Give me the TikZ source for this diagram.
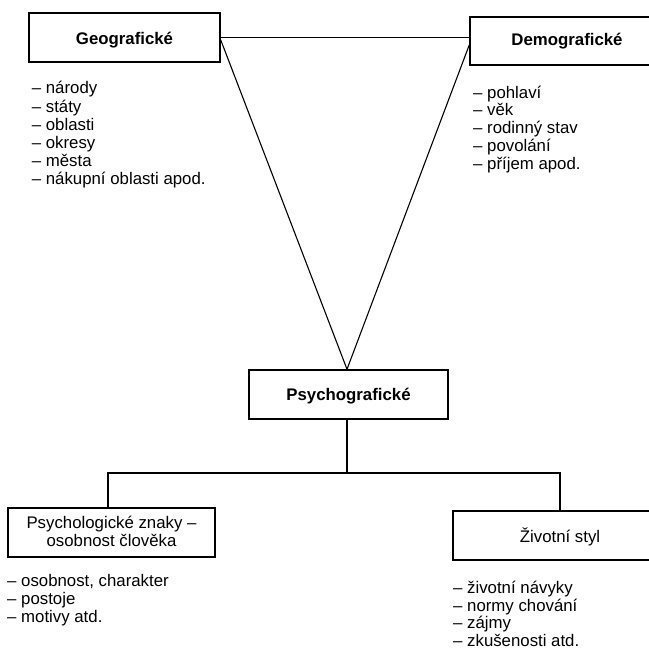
\documentclass[tikz,border=0pt]{standalone}
\usepackage{fontspec}
\setmainfont{Liberation Sans}
\begin{document}
\begin{tikzpicture}[x=1pt,y=-1pt,
  box/.style={draw, line width=1.5pt, inner sep=0pt, font=\fontsize{16.8}{18}\selectfont},
  head/.style={box, font=\fontsize{16.8}{18}\selectfont\bfseries},
  conn/.style={line width=1.1pt},
  listtext/.style={inner sep=0pt, anchor=base west}
]
\useasboundingbox (0,0) rectangle (648,655);
% boxes
\node[head, minimum width=191pt, minimum height=49pt, text height=15pt, text depth=0pt] (geo) at (124.5,37.5) {Geografické};
\node[head, minimum width=194pt, minimum height=48pt, text height=12pt, text depth=3pt] (demo) at (567,41) {Demografické};
\node[head, minimum width=199pt, minimum height=49pt, text height=12.4pt, text depth=0pt] (psy) at (348.5,394.5) {Psychografické};
\node[box, minimum width=207pt, minimum height=49pt, text height=0pt, text depth=8.4pt] (lbox) at (111.5,532.5)
  {\begin{tabular}[t]{@{}c@{}}Psychologické znaky –\\osobnost člověka\end{tabular}};
\node[box, minimum width=214pt, minimum height=49pt, text height=14.4pt, text depth=0pt] (rbox) at (560,535.5) {Životní styl};
% lists
\node[listtext, font=\fontsize{16.8}{18.1}\selectfont] (geolist) at (31.7,94)
  {\begin{tabular}[t]{@{}l@{}}– národy\\– státy\\– oblasti\\– okresy\\– města\\– nákupní oblasti apod.\end{tabular}};
\node[listtext, font=\fontsize{16.8}{17.7}\selectfont] (demolist) at (473,98.3)
  {\begin{tabular}[t]{@{}l@{}}– pohlaví\\– věk\\– rodinný stav\\– povolání\\– příjem apod.\end{tabular}};
\node[listtext, font=\fontsize{16.8}{18.2}\selectfont] (llist) at (7,586.2)
  {\begin{tabular}[t]{@{}l@{}}– osobnost, charakter\\– postoje\\– motivy atd.\end{tabular}};
\node[listtext, font=\fontsize{16.8}{17.8}\selectfont] (rlist) at (453,593.3)
  {\begin{tabular}[t]{@{}l@{}}– životní návyky\\– normy chování\\– zájmy\\– zkušenosti atd.\end{tabular}};
% connectors
\draw[conn] (geo.east) -- (geo.east -| demo.west);
\draw[conn] ([yshift=-2.5pt]geo.east) -- ([xshift=-1.5pt]psy.north) -- ([yshift=-4pt]demo.west);
\coordinate (bus) at (347,473);
\draw[conn] ([xshift=-1.5pt]psy.south) -- (bus);
\draw[conn] ([xshift=-3.5pt]lbox.north) |- (bus) -| (rbox.north);
\end{tikzpicture}
\end{document}
